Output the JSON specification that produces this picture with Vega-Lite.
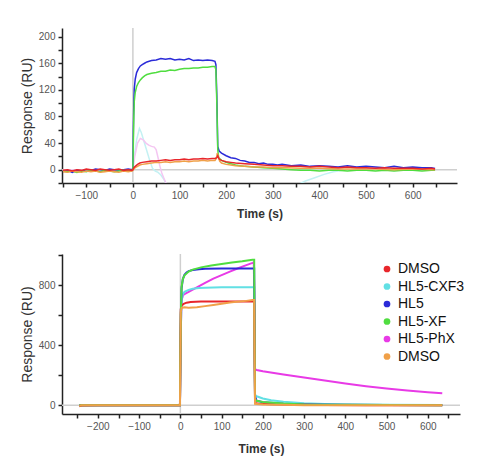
{
 "$schema": "https://vega.github.io/schema/vega-lite/v6.json",
 "padding": {"left": 20, "top": 27, "right": 5, "bottom": 4},
 "spacing": 34,
 "config": {
  "view": {"stroke": null},
  "axis": {"domainColor": "#222", "domainWidth": 1.5, "tickColor": "#222", "tickWidth": 1.5, "tickSize": 4, "labelPadding": 3, "labelFont": "Liberation Sans", "labelFontSize": 10, "labelColor": "#555", "grid": false, "titleFont": "Liberation Sans", "titleColor": "#333"},
  "axisY": {"titleFontSize": 14, "titleFontWeight": "normal", "titlePadding": 4},
  "axisX": {"titleFontSize": 12, "titleFontWeight": "bold", "titlePadding": 8}
 },
 "datasets": {
  "top": [
   {"s":"HL5-CXF3","t":-150,"r":-1},{"s":"HL5-CXF3","t":-100,"r":-2},{"s":"HL5-CXF3","t":-50,"r":-1},{"s":"HL5-CXF3","t":-2,"r":-1},{"s":"HL5-CXF3","t":0,"r":0},{"s":"HL5-CXF3","t":3,"r":20},{"s":"HL5-CXF3","t":8,"r":45},{"s":"HL5-CXF3","t":14,"r":62},{"s":"HL5-CXF3","t":18,"r":56},{"s":"HL5-CXF3","t":24,"r":42},{"s":"HL5-CXF3","t":30,"r":28},{"s":"HL5-CXF3","t":36,"r":14},{"s":"HL5-CXF3","t":42,"r":2},{"s":"HL5-CXF3","t":48,"r":-2},{"s":"HL5-CXF3","t":54,"r":-4},{"s":"HL5-CXF3","t":60,"r":-8},{"s":"HL5-CXF3","t":66,"r":-14},{"s":"HL5-CXF3","t":72,"r":-22},{"s":"HL5-CXF3","t":78,"r":-35},{"s":"HL5-CXF3","t":340,"r":-35},{"s":"HL5-CXF3","t":355,"r":-22},{"s":"HL5-CXF3","t":370,"r":-17},{"s":"HL5-CXF3","t":390,"r":-12},{"s":"HL5-CXF3","t":410,"r":-7},{"s":"HL5-CXF3","t":430,"r":-3},{"s":"HL5-CXF3","t":450,"r":-1},{"s":"HL5-CXF3","t":500,"r":0},{"s":"HL5-CXF3","t":550,"r":0},{"s":"HL5-CXF3","t":600,"r":-1},{"s":"HL5-CXF3","t":648,"r":0},
   {"s":"HL5-PhX","t":-150,"r":0},{"s":"HL5-PhX","t":-100,"r":-1},{"s":"HL5-PhX","t":-50,"r":0},{"s":"HL5-PhX","t":-2,"r":0},{"s":"HL5-PhX","t":0,"r":1},{"s":"HL5-PhX","t":4,"r":20},{"s":"HL5-PhX","t":10,"r":40},{"s":"HL5-PhX","t":16,"r":47},{"s":"HL5-PhX","t":22,"r":45},{"s":"HL5-PhX","t":28,"r":40},{"s":"HL5-PhX","t":34,"r":37},{"s":"HL5-PhX","t":40,"r":35},{"s":"HL5-PhX","t":46,"r":34},{"s":"HL5-PhX","t":50,"r":30},{"s":"HL5-PhX","t":54,"r":18},{"s":"HL5-PhX","t":58,"r":5},{"s":"HL5-PhX","t":62,"r":-5},{"s":"HL5-PhX","t":66,"r":-12},{"s":"HL5-PhX","t":72,"r":-22},{"s":"HL5-PhX","t":80,"r":-40},
   {"s":"HL5","t":-150,"r":-3},{"s":"HL5","t":-140,"r":-1},{"s":"HL5","t":-130,"r":-4},{"s":"HL5","t":-120,"r":-1},{"s":"HL5","t":-110,"r":-2},{"s":"HL5","t":-100,"r":0},{"s":"HL5","t":-90,"r":-1},{"s":"HL5","t":-80,"r":1},{"s":"HL5","t":-70,"r":0},{"s":"HL5","t":-60,"r":-1},{"s":"HL5","t":-50,"r":1},{"s":"HL5","t":-40,"r":0},{"s":"HL5","t":-30,"r":-1},{"s":"HL5","t":-20,"r":0},{"s":"HL5","t":-10,"r":1},{"s":"HL5","t":-2,"r":0},{"s":"HL5","t":0,"r":2},{"s":"HL5","t":1,"r":60},{"s":"HL5","t":2,"r":100},{"s":"HL5","t":3,"r":122},{"s":"HL5","t":5,"r":136},{"s":"HL5","t":8,"r":146},{"s":"HL5","t":12,"r":152},{"s":"HL5","t":16,"r":156},{"s":"HL5","t":20,"r":158},{"s":"HL5","t":25,"r":160},{"s":"HL5","t":30,"r":162},{"s":"HL5","t":35,"r":163},{"s":"HL5","t":40,"r":164},{"s":"HL5","t":50,"r":165},{"s":"HL5","t":60,"r":167},{"s":"HL5","t":70,"r":166},{"s":"HL5","t":80,"r":167},{"s":"HL5","t":90,"r":165},{"s":"HL5","t":100,"r":166},{"s":"HL5","t":110,"r":165},{"s":"HL5","t":120,"r":167},{"s":"HL5","t":130,"r":164},{"s":"HL5","t":140,"r":165},{"s":"HL5","t":150,"r":164},{"s":"HL5","t":160,"r":165},{"s":"HL5","t":170,"r":164},{"s":"HL5","t":176,"r":163},{"s":"HL5","t":178,"r":158},{"s":"HL5","t":180,"r":110},{"s":"HL5","t":182,"r":35},{"s":"HL5","t":185,"r":28},{"s":"HL5","t":190,"r":25},{"s":"HL5","t":200,"r":21},{"s":"HL5","t":210,"r":18},{"s":"HL5","t":220,"r":17},{"s":"HL5","t":230,"r":14},{"s":"HL5","t":240,"r":13},{"s":"HL5","t":250,"r":11},{"s":"HL5","t":260,"r":11},{"s":"HL5","t":270,"r":9},{"s":"HL5","t":280,"r":10},{"s":"HL5","t":290,"r":8},{"s":"HL5","t":300,"r":8},{"s":"HL5","t":310,"r":7},{"s":"HL5","t":320,"r":8},{"s":"HL5","t":340,"r":6},{"s":"HL5","t":360,"r":7},{"s":"HL5","t":380,"r":5},{"s":"HL5","t":400,"r":6},{"s":"HL5","t":420,"r":5},{"s":"HL5","t":440,"r":4},{"s":"HL5","t":460,"r":6},{"s":"HL5","t":480,"r":4},{"s":"HL5","t":500,"r":5},{"s":"HL5","t":520,"r":4},{"s":"HL5","t":540,"r":3},{"s":"HL5","t":560,"r":5},{"s":"HL5","t":580,"r":3},{"s":"HL5","t":600,"r":4},{"s":"HL5","t":620,"r":3},{"s":"HL5","t":640,"r":3},{"s":"HL5","t":648,"r":2},
   {"s":"HL5-XF","t":-150,"r":-2},{"s":"HL5-XF","t":-140,"r":-3},{"s":"HL5-XF","t":-130,"r":-2},{"s":"HL5-XF","t":-120,"r":-4},{"s":"HL5-XF","t":-110,"r":-2},{"s":"HL5-XF","t":-100,"r":-3},{"s":"HL5-XF","t":-90,"r":-1},{"s":"HL5-XF","t":-80,"r":-2},{"s":"HL5-XF","t":-70,"r":-3},{"s":"HL5-XF","t":-60,"r":-1},{"s":"HL5-XF","t":-50,"r":-2},{"s":"HL5-XF","t":-40,"r":-3},{"s":"HL5-XF","t":-30,"r":-2},{"s":"HL5-XF","t":-20,"r":-1},{"s":"HL5-XF","t":-10,"r":-2},{"s":"HL5-XF","t":-2,"r":-1},{"s":"HL5-XF","t":0,"r":1},{"s":"HL5-XF","t":1,"r":40},{"s":"HL5-XF","t":2,"r":80},{"s":"HL5-XF","t":3,"r":103},{"s":"HL5-XF","t":5,"r":116},{"s":"HL5-XF","t":8,"r":125},{"s":"HL5-XF","t":12,"r":131},{"s":"HL5-XF","t":16,"r":135},{"s":"HL5-XF","t":20,"r":138},{"s":"HL5-XF","t":25,"r":141},{"s":"HL5-XF","t":30,"r":143},{"s":"HL5-XF","t":40,"r":145},{"s":"HL5-XF","t":50,"r":146},{"s":"HL5-XF","t":60,"r":148},{"s":"HL5-XF","t":70,"r":148},{"s":"HL5-XF","t":80,"r":150},{"s":"HL5-XF","t":90,"r":149},{"s":"HL5-XF","t":100,"r":151},{"s":"HL5-XF","t":110,"r":152},{"s":"HL5-XF","t":120,"r":152},{"s":"HL5-XF","t":130,"r":153},{"s":"HL5-XF","t":140,"r":153},{"s":"HL5-XF","t":150,"r":154},{"s":"HL5-XF","t":160,"r":154},{"s":"HL5-XF","t":170,"r":155},{"s":"HL5-XF","t":176,"r":155},{"s":"HL5-XF","t":178,"r":150},{"s":"HL5-XF","t":180,"r":100},{"s":"HL5-XF","t":182,"r":30},{"s":"HL5-XF","t":184,"r":18},{"s":"HL5-XF","t":190,"r":14},{"s":"HL5-XF","t":200,"r":11},{"s":"HL5-XF","t":210,"r":9},{"s":"HL5-XF","t":220,"r":7},{"s":"HL5-XF","t":230,"r":6},{"s":"HL5-XF","t":240,"r":5},{"s":"HL5-XF","t":260,"r":4},{"s":"HL5-XF","t":280,"r":3},{"s":"HL5-XF","t":300,"r":2},{"s":"HL5-XF","t":320,"r":1},{"s":"HL5-XF","t":340,"r":0},{"s":"HL5-XF","t":360,"r":-1},{"s":"HL5-XF","t":380,"r":-1},{"s":"HL5-XF","t":400,"r":-2},{"s":"HL5-XF","t":420,"r":-1},{"s":"HL5-XF","t":440,"r":-1},{"s":"HL5-XF","t":460,"r":-2},{"s":"HL5-XF","t":480,"r":-1},{"s":"HL5-XF","t":500,"r":-1},{"s":"HL5-XF","t":520,"r":-2},{"s":"HL5-XF","t":540,"r":-1},{"s":"HL5-XF","t":560,"r":-2},{"s":"HL5-XF","t":580,"r":-1},{"s":"HL5-XF","t":600,"r":-1},{"s":"HL5-XF","t":620,"r":-2},{"s":"HL5-XF","t":640,"r":-1},{"s":"HL5-XF","t":648,"r":-1},
   {"s":"DMSO2","t":-150,"r":-3},{"s":"DMSO2","t":-140,"r":-4},{"s":"DMSO2","t":-130,"r":-2},{"s":"DMSO2","t":-120,"r":-3},{"s":"DMSO2","t":-110,"r":-4},{"s":"DMSO2","t":-100,"r":-2},{"s":"DMSO2","t":-90,"r":-3},{"s":"DMSO2","t":-80,"r":-2},{"s":"DMSO2","t":-70,"r":-4},{"s":"DMSO2","t":-60,"r":-3},{"s":"DMSO2","t":-50,"r":-2},{"s":"DMSO2","t":-40,"r":-3},{"s":"DMSO2","t":-30,"r":-4},{"s":"DMSO2","t":-20,"r":-2},{"s":"DMSO2","t":-10,"r":-3},{"s":"DMSO2","t":-2,"r":-2},{"s":"DMSO2","t":0,"r":-1},{"s":"DMSO2","t":2,"r":1},{"s":"DMSO2","t":5,"r":3},{"s":"DMSO2","t":10,"r":5},{"s":"DMSO2","t":15,"r":7},{"s":"DMSO2","t":20,"r":8},{"s":"DMSO2","t":30,"r":9},{"s":"DMSO2","t":40,"r":10},{"s":"DMSO2","t":50,"r":11},{"s":"DMSO2","t":60,"r":11},{"s":"DMSO2","t":70,"r":12},{"s":"DMSO2","t":80,"r":11},{"s":"DMSO2","t":90,"r":12},{"s":"DMSO2","t":100,"r":12},{"s":"DMSO2","t":110,"r":13},{"s":"DMSO2","t":120,"r":12},{"s":"DMSO2","t":130,"r":13},{"s":"DMSO2","t":140,"r":13},{"s":"DMSO2","t":150,"r":14},{"s":"DMSO2","t":160,"r":13},{"s":"DMSO2","t":170,"r":14},{"s":"DMSO2","t":176,"r":14},{"s":"DMSO2","t":179,"r":17},{"s":"DMSO2","t":181,"r":25},{"s":"DMSO2","t":183,"r":20},{"s":"DMSO2","t":186,"r":13},{"s":"DMSO2","t":190,"r":10},{"s":"DMSO2","t":200,"r":8},{"s":"DMSO2","t":210,"r":7},{"s":"DMSO2","t":220,"r":6},{"s":"DMSO2","t":240,"r":5},{"s":"DMSO2","t":260,"r":4},{"s":"DMSO2","t":280,"r":4},{"s":"DMSO2","t":300,"r":3},{"s":"DMSO2","t":330,"r":3},{"s":"DMSO2","t":360,"r":2},{"s":"DMSO2","t":400,"r":2},{"s":"DMSO2","t":440,"r":1},{"s":"DMSO2","t":480,"r":1},{"s":"DMSO2","t":520,"r":1},{"s":"DMSO2","t":560,"r":0},{"s":"DMSO2","t":600,"r":1},{"s":"DMSO2","t":648,"r":0},
   {"s":"DMSO1","t":-150,"r":-1},{"s":"DMSO1","t":-140,"r":0},{"s":"DMSO1","t":-130,"r":-2},{"s":"DMSO1","t":-120,"r":0},{"s":"DMSO1","t":-110,"r":-1},{"s":"DMSO1","t":-100,"r":1},{"s":"DMSO1","t":-90,"r":0},{"s":"DMSO1","t":-80,"r":-1},{"s":"DMSO1","t":-70,"r":1},{"s":"DMSO1","t":-60,"r":0},{"s":"DMSO1","t":-50,"r":-1},{"s":"DMSO1","t":-40,"r":0},{"s":"DMSO1","t":-30,"r":1},{"s":"DMSO1","t":-20,"r":-1},{"s":"DMSO1","t":-10,"r":0},{"s":"DMSO1","t":-2,"r":-1},{"s":"DMSO1","t":0,"r":0},{"s":"DMSO1","t":2,"r":3},{"s":"DMSO1","t":5,"r":5},{"s":"DMSO1","t":10,"r":8},{"s":"DMSO1","t":15,"r":10},{"s":"DMSO1","t":20,"r":11},{"s":"DMSO1","t":30,"r":12},{"s":"DMSO1","t":40,"r":13},{"s":"DMSO1","t":50,"r":13},{"s":"DMSO1","t":60,"r":14},{"s":"DMSO1","t":70,"r":15},{"s":"DMSO1","t":80,"r":14},{"s":"DMSO1","t":90,"r":15},{"s":"DMSO1","t":100,"r":15},{"s":"DMSO1","t":110,"r":16},{"s":"DMSO1","t":120,"r":15},{"s":"DMSO1","t":130,"r":16},{"s":"DMSO1","t":140,"r":16},{"s":"DMSO1","t":150,"r":17},{"s":"DMSO1","t":160,"r":16},{"s":"DMSO1","t":170,"r":17},{"s":"DMSO1","t":176,"r":17},{"s":"DMSO1","t":180,"r":18},{"s":"DMSO1","t":182,"r":21},{"s":"DMSO1","t":185,"r":16},{"s":"DMSO1","t":190,"r":14},{"s":"DMSO1","t":200,"r":12},{"s":"DMSO1","t":210,"r":11},{"s":"DMSO1","t":220,"r":10},{"s":"DMSO1","t":240,"r":9},{"s":"DMSO1","t":260,"r":8},{"s":"DMSO1","t":280,"r":7},{"s":"DMSO1","t":300,"r":6},{"s":"DMSO1","t":320,"r":6},{"s":"DMSO1","t":340,"r":5},{"s":"DMSO1","t":360,"r":5},{"s":"DMSO1","t":380,"r":4},{"s":"DMSO1","t":400,"r":5},{"s":"DMSO1","t":420,"r":4},{"s":"DMSO1","t":440,"r":3},{"s":"DMSO1","t":460,"r":4},{"s":"DMSO1","t":480,"r":3},{"s":"DMSO1","t":500,"r":3},{"s":"DMSO1","t":520,"r":2},{"s":"DMSO1","t":540,"r":3},{"s":"DMSO1","t":560,"r":2},{"s":"DMSO1","t":580,"r":2},{"s":"DMSO1","t":600,"r":2},{"s":"DMSO1","t":620,"r":1},{"s":"DMSO1","t":640,"r":2},{"s":"DMSO1","t":648,"r":1}
  ],
  "bottom": [
   {"s":"HL5-PhX","t":-245,"r":0},{"s":"HL5-PhX","t":-100,"r":0},{"s":"HL5-PhX","t":-1,"r":0},{"s":"HL5-PhX","t":0,"r":300},{"s":"HL5-PhX","t":1,"r":500},{"s":"HL5-PhX","t":3,"r":700},{"s":"HL5-PhX","t":6,"r":730},{"s":"HL5-PhX","t":10,"r":740},{"s":"HL5-PhX","t":20,"r":755},{"s":"HL5-PhX","t":40,"r":785},{"s":"HL5-PhX","t":60,"r":815},{"s":"HL5-PhX","t":80,"r":843},{"s":"HL5-PhX","t":100,"r":866},{"s":"HL5-PhX","t":120,"r":890},{"s":"HL5-PhX","t":140,"r":912},{"s":"HL5-PhX","t":160,"r":933},{"s":"HL5-PhX","t":175,"r":948},{"s":"HL5-PhX","t":178,"r":952},{"s":"HL5-PhX","t":180,"r":600},{"s":"HL5-PhX","t":181,"r":240},{"s":"HL5-PhX","t":185,"r":235},{"s":"HL5-PhX","t":200,"r":226},{"s":"HL5-PhX","t":250,"r":205},{"s":"HL5-PhX","t":300,"r":185},{"s":"HL5-PhX","t":350,"r":165},{"s":"HL5-PhX","t":400,"r":145},{"s":"HL5-PhX","t":450,"r":127},{"s":"HL5-PhX","t":500,"r":111},{"s":"HL5-PhX","t":550,"r":98},{"s":"HL5-PhX","t":600,"r":87},{"s":"HL5-PhX","t":635,"r":80},
   {"s":"HL5-CXF3","t":-245,"r":0},{"s":"HL5-CXF3","t":-100,"r":0},{"s":"HL5-CXF3","t":-1,"r":0},{"s":"HL5-CXF3","t":0,"r":300},{"s":"HL5-CXF3","t":1,"r":500},{"s":"HL5-CXF3","t":3,"r":700},{"s":"HL5-CXF3","t":6,"r":740},{"s":"HL5-CXF3","t":10,"r":755},{"s":"HL5-CXF3","t":20,"r":768},{"s":"HL5-CXF3","t":30,"r":775},{"s":"HL5-CXF3","t":45,"r":780},{"s":"HL5-CXF3","t":60,"r":783},{"s":"HL5-CXF3","t":100,"r":785},{"s":"HL5-CXF3","t":140,"r":786},{"s":"HL5-CXF3","t":179,"r":786},{"s":"HL5-CXF3","t":180,"r":300},{"s":"HL5-CXF3","t":181,"r":70},{"s":"HL5-CXF3","t":185,"r":60},{"s":"HL5-CXF3","t":200,"r":45},{"s":"HL5-CXF3","t":220,"r":33},{"s":"HL5-CXF3","t":250,"r":23},{"s":"HL5-CXF3","t":300,"r":14},{"s":"HL5-CXF3","t":350,"r":9},{"s":"HL5-CXF3","t":400,"r":6},{"s":"HL5-CXF3","t":500,"r":4},{"s":"HL5-CXF3","t":635,"r":2},
   {"s":"HL5","t":-245,"r":0},{"s":"HL5","t":-100,"r":0},{"s":"HL5","t":-1,"r":0},{"s":"HL5","t":0,"r":300},{"s":"HL5","t":1,"r":600},{"s":"HL5","t":3,"r":780},{"s":"HL5","t":6,"r":840},{"s":"HL5","t":10,"r":868},{"s":"HL5","t":15,"r":884},{"s":"HL5","t":20,"r":893},{"s":"HL5","t":30,"r":900},{"s":"HL5","t":45,"r":905},{"s":"HL5","t":60,"r":908},{"s":"HL5","t":100,"r":910},{"s":"HL5","t":140,"r":910},{"s":"HL5","t":179,"r":910},{"s":"HL5","t":180,"r":400},{"s":"HL5","t":181,"r":60},{"s":"HL5","t":185,"r":30},{"s":"HL5","t":200,"r":20},{"s":"HL5","t":250,"r":10},{"s":"HL5","t":300,"r":6},{"s":"HL5","t":400,"r":3},{"s":"HL5","t":500,"r":2},{"s":"HL5","t":635,"r":1},
   {"s":"DMSO1","t":-245,"r":-6},{"s":"DMSO1","t":-240,"r":-1},{"s":"DMSO1","t":-200,"r":0},{"s":"DMSO1","t":-150,"r":0},{"s":"DMSO1","t":-100,"r":0},{"s":"DMSO1","t":-50,"r":0},{"s":"DMSO1","t":-1,"r":0},{"s":"DMSO1","t":0,"r":300},{"s":"DMSO1","t":1,"r":640},{"s":"DMSO1","t":3,"r":664},{"s":"DMSO1","t":8,"r":675},{"s":"DMSO1","t":15,"r":683},{"s":"DMSO1","t":25,"r":687},{"s":"DMSO1","t":50,"r":690},{"s":"DMSO1","t":100,"r":690},{"s":"DMSO1","t":150,"r":690},{"s":"DMSO1","t":179,"r":690},{"s":"DMSO1","t":180,"r":300},{"s":"DMSO1","t":181,"r":15},{"s":"DMSO1","t":190,"r":10},{"s":"DMSO1","t":220,"r":7},{"s":"DMSO1","t":250,"r":5},{"s":"DMSO1","t":300,"r":3},{"s":"DMSO1","t":350,"r":2},{"s":"DMSO1","t":450,"r":1},{"s":"DMSO1","t":550,"r":0},{"s":"DMSO1","t":635,"r":0},
   {"s":"HL5-XF","t":-245,"r":0},{"s":"HL5-XF","t":-100,"r":0},{"s":"HL5-XF","t":-1,"r":0},{"s":"HL5-XF","t":0,"r":300},{"s":"HL5-XF","t":1,"r":600},{"s":"HL5-XF","t":3,"r":790},{"s":"HL5-XF","t":6,"r":840},{"s":"HL5-XF","t":10,"r":865},{"s":"HL5-XF","t":20,"r":890},{"s":"HL5-XF","t":30,"r":903},{"s":"HL5-XF","t":50,"r":918},{"s":"HL5-XF","t":75,"r":930},{"s":"HL5-XF","t":100,"r":940},{"s":"HL5-XF","t":125,"r":950},{"s":"HL5-XF","t":150,"r":958},{"s":"HL5-XF","t":175,"r":968},{"s":"HL5-XF","t":179,"r":968},{"s":"HL5-XF","t":180,"r":400},{"s":"HL5-XF","t":181,"r":40},{"s":"HL5-XF","t":185,"r":30},{"s":"HL5-XF","t":200,"r":22},{"s":"HL5-XF","t":250,"r":12},{"s":"HL5-XF","t":300,"r":6},{"s":"HL5-XF","t":400,"r":3},{"s":"HL5-XF","t":635,"r":1},
   {"s":"DMSO2","t":-245,"r":-3},{"s":"DMSO2","t":-240,"r":0},{"s":"DMSO2","t":-200,"r":0},{"s":"DMSO2","t":-100,"r":0},{"s":"DMSO2","t":-1,"r":0},{"s":"DMSO2","t":0,"r":300},{"s":"DMSO2","t":1,"r":620},{"s":"DMSO2","t":3,"r":648},{"s":"DMSO2","t":10,"r":652},{"s":"DMSO2","t":20,"r":650},{"s":"DMSO2","t":40,"r":652},{"s":"DMSO2","t":60,"r":660},{"s":"DMSO2","t":80,"r":668},{"s":"DMSO2","t":100,"r":676},{"s":"DMSO2","t":120,"r":684},{"s":"DMSO2","t":140,"r":690},{"s":"DMSO2","t":160,"r":695},{"s":"DMSO2","t":175,"r":700},{"s":"DMSO2","t":179,"r":700},{"s":"DMSO2","t":180,"r":300},{"s":"DMSO2","t":181,"r":10},{"s":"DMSO2","t":200,"r":5},{"s":"DMSO2","t":250,"r":3},{"s":"DMSO2","t":300,"r":1},{"s":"DMSO2","t":400,"r":0},{"s":"DMSO2","t":635,"r":0}
  ]
 },
 "vconcat": [
  {
   "width": 395,
   "height": 155,
   "layer": [
    {"data": {"values": [{}]}, "mark": {"type": "rule", "color": "#cfcfcf", "strokeWidth": 1.5}, "encoding": {"x": {"datum": 0, "type": "quantitative", "title": "Time (s)", "scale": {"domain": [-152, 695], "nice": false, "zero": false}, "axis": {"values": [-150,-100,-50,0,50,100,150,200,250,300,350,400,450,500,550,600,650], "labelExpr": "datum.value % 100 == 0 ? datum.label : ''", "titlePadding": 8}}}},
    {"data": {"values": [{}]}, "mark": {"type": "rule", "color": "#cfcfcf", "strokeWidth": 1.5}, "encoding": {"y": {"datum": 0, "type": "quantitative", "title": "Response (RU)", "scale": {"domain": [-20, 213], "nice": false, "zero": false}, "axis": {"values": [-20,0,20,40,60,80,100,120,140,160,180,200], "labelExpr": "datum.value >= 0 && datum.value % 40 == 0 ? datum.label : ''"}}}},
    {
     "data": {"name": "top"},
     "mark": {"type": "line", "strokeWidth": 1.5, "clip": true},
     "encoding": {
      "x": {"field": "t", "type": "quantitative", "title": "Time (s)", "scale": {"domain": [-152, 695], "nice": false, "zero": false}, "axis": {"values": [-150,-100,-50,0,50,100,150,200,250,300,350,400,450,500,550,600,650], "labelExpr": "datum.value % 100 == 0 ? datum.label : ''", "titlePadding": 8}},
      "y": {"field": "r", "type": "quantitative", "title": "Response (RU)", "scale": {"domain": [-20, 213], "nice": false, "zero": false}, "axis": {"values": [-20,0,20,40,60,80,100,120,140,160,180,200], "labelExpr": "datum.value >= 0 && datum.value % 40 == 0 ? datum.label : ''"}},
      "color": {"field": "s", "type": "nominal", "scale": {"domain": ["DMSO1","HL5-CXF3","HL5","HL5-XF","HL5-PhX","DMSO2"], "range": ["#e8262b","#c4f1f3","#2b2bd8","#50dd40","#f4c6f2","#f0a048"]}, "legend": null},
      "order": {"field": "t", "type": "quantitative"}
     }
    }
   ]
  },
  {
   "width": 398,
   "height": 160,
   "layer": [
    {"data": {"values": [{}]}, "mark": {"type": "rule", "color": "#cfcfcf", "strokeWidth": 1.5}, "encoding": {"x": {"datum": 0, "type": "quantitative", "title": "Time (s)", "scale": {"domain": [-287, 678], "nice": false, "zero": false}, "axis": {"values": [-250,-200,-150,-100,-50,0,50,100,150,200,250,300,350,400,450,500,550,600,650], "labelExpr": "datum.value % 100 == 0 ? datum.label : ''", "titlePadding": 12}}}},
    {"data": {"values": [{}]}, "mark": {"type": "rule", "color": "#cfcfcf", "strokeWidth": 1.5}, "encoding": {"y": {"datum": 0, "type": "quantitative", "title": "Response (RU)", "scale": {"domain": [-58, 1007], "nice": false, "zero": false}, "axis": {"values": [0,200,400,600,800,1000], "labelExpr": "datum.value % 400 == 0 ? datum.label : ''"}}}},
    {
     "data": {"name": "bottom"},
     "mark": {"type": "line", "strokeWidth": 2, "clip": true},
     "encoding": {
      "x": {"field": "t", "type": "quantitative", "title": "Time (s)", "scale": {"domain": [-287, 678], "nice": false, "zero": false}, "axis": {"values": [-250,-200,-150,-100,-50,0,50,100,150,200,250,300,350,400,450,500,550,600,650], "labelExpr": "datum.value % 100 == 0 ? datum.label : ''", "titlePadding": 12}},
      "y": {"field": "r", "type": "quantitative", "title": "Response (RU)", "scale": {"domain": [-58, 1007], "nice": false, "zero": false}, "axis": {"values": [0,200,400,600,800,1000], "labelExpr": "datum.value % 400 == 0 ? datum.label : ''"}},
      "color": {"field": "s", "type": "nominal", "scale": {"domain": ["DMSO1","HL5-CXF3","HL5","HL5-XF","HL5-PhX","DMSO2"], "range": ["#e8262b","#62e0e4","#2b2bd8","#50dd40","#e83ae6","#f0a048"]}, "legend": {"orient": "none", "legendX": 318, "legendY": 8, "title": null, "labelFont": "Liberation Sans", "labelFontSize": 14, "labelColor": "#111", "symbolType": "circle", "symbolSize": 45, "symbolStrokeWidth": 0, "symbolOpacity": 1, "rowPadding": 3.5, "labelOffset": 4, "padding": 0, "labelExpr": "datum.label == 'DMSO1' || datum.label == 'DMSO2' ? 'DMSO' : datum.label"}},
      "order": {"field": "t", "type": "quantitative"}
     }
    },
    {
     "data": {"name": "bottom"},
     "mark": {"type": "point", "filled": true, "size": 0, "opacity": 1, "clip": true},
     "encoding": {
      "x": {"field": "t", "type": "quantitative", "title": "Time (s)", "scale": {"domain": [-287, 678], "nice": false, "zero": false}, "axis": {"values": [-250,-200,-150,-100,-50,0,50,100,150,200,250,300,350,400,450,500,550,600,650], "labelExpr": "datum.value % 100 == 0 ? datum.label : ''", "titlePadding": 12}},
      "y": {"field": "r", "type": "quantitative", "title": "Response (RU)", "scale": {"domain": [-58, 1007], "nice": false, "zero": false}, "axis": {"values": [0,200,400,600,800,1000], "labelExpr": "datum.value % 400 == 0 ? datum.label : ''"}},
      "color": {"field": "s", "type": "nominal", "scale": {"domain": ["DMSO1","HL5-CXF3","HL5","HL5-XF","HL5-PhX","DMSO2"], "range": ["#e8262b","#62e0e4","#2b2bd8","#50dd40","#e83ae6","#f0a048"]}, "legend": {"orient": "none", "legendX": 318, "legendY": 8, "title": null, "labelFont": "Liberation Sans", "labelFontSize": 14, "labelColor": "#111", "symbolType": "circle", "symbolSize": 45, "symbolStrokeWidth": 0, "symbolOpacity": 1, "rowPadding": 3.5, "labelOffset": 4, "padding": 0, "labelExpr": "datum.label == 'DMSO1' || datum.label == 'DMSO2' ? 'DMSO' : datum.label"}}
     }
    }
   ]
  }
 ],
 "resolve": {"scale": {"color": "independent", "x": "independent", "y": "independent"}, "legend": {"color": "independent"}}
}
